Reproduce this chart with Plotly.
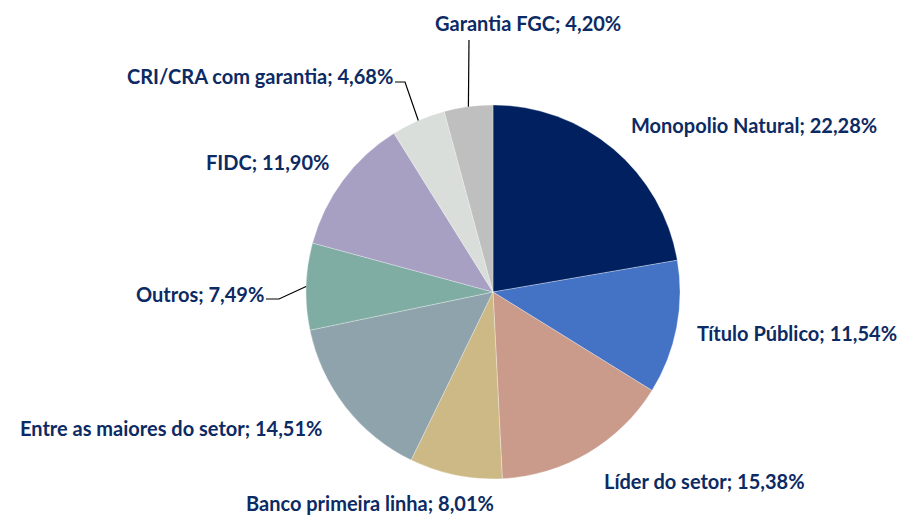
import math
import plotly.graph_objects as go

labels = ["Monopolio Natural", "Título Público", "Líder do setor", "Banco primeira linha",
          "Entre as maiores do setor", "Outros", "FIDC", "CRI/CRA com garantia", "Garantia FGC"]
values = [22.28, 11.54, 15.38, 8.01, 14.51, 7.49, 11.90, 4.68, 4.20]
colors = ["#002060", "#4472C4", "#CA9B8B", "#CDB985", "#8FA3AD", "#7FADA3", "#A7A0C3", "#D9DEDA", "#BFBFBF"]

W, H = 917, 517
CX, CY, R = 493, 292, 187

def px(x):
    return x / W

def py(y):
    return 1 - y / H

fig = go.Figure(go.Pie(
    labels=labels, values=values, sort=False, direction="clockwise", rotation=0,
    marker=dict(colors=colors, line=dict(color="white", width=0.3)),
    textinfo="none", hoverinfo="label+percent", showlegend=False,
    domain=dict(x=[px(CX - R), px(CX + R)], y=[py(CY + R), py(CY - R)]),
))

# label placement (pixel centres of text) and optional leader elbows
label_pos = {
    "Monopolio Natural": (754, 125, None),
    "Título Público": (797, 333, None),
    "Líder do setor": (704, 481, None),
    "Banco primeira linha": (370, 503, None),
    "Entre as maiores do setor": (171, 428, None),
    "Outros": (200, 294, [(266, 299), (279, 299)]),
    "FIDC": (267, 162, None),
    "CRI/CRA com garantia": (260, 76, [(395, 82), (405, 82)]),
    "Garantia FGC": (528, 23, [(469, 40)]),
}

total = sum(values)
cum = 0.0
annotations = []
shapes = []
for lab, val in zip(labels, values):
    mid = (cum + val / 2) / total * 2 * math.pi
    cum += val
    ex = CX + R * math.sin(mid)
    ey = CY - R * math.cos(mid)
    tx, ty, elbow = label_pos[lab]
    text = f"{lab}; {val:.2f}%".replace(".", ",")
    annotations.append(dict(
        x=px(tx), y=py(ty), xref="paper", yref="paper", text=text, showarrow=False,
        xanchor="center", yanchor="middle",
        font=dict(family="Lato", size=20, color="#0C2A63", weight="bold"),
    ))
    if elbow:
        pts = elbow + [(ex, ey)]
        path = "M " + " L ".join(f"{px(a)},{py(b)}" for a, b in pts)
        shapes.append(dict(type="path", xref="paper", yref="paper", path=path,
                           line=dict(color="black", width=1.2)))

fig.update_layout(
    width=W, height=H, margin=dict(l=0, r=0, t=0, b=0),
    paper_bgcolor="white", plot_bgcolor="white",
    annotations=annotations, shapes=shapes,
)

fig.write_html("out.html", config={"displayModeBar": False},
               post_script="document.body.style.margin='0';document.body.style.overflow='hidden';")
